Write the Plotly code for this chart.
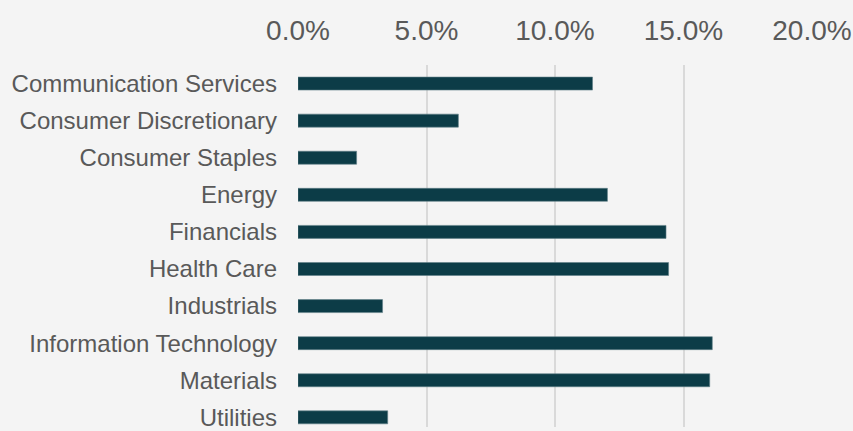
import plotly.graph_objects as go

categories = ["Communication Services", "Consumer Discretionary", "Consumer Staples",
              "Energy", "Financials", "Health Care", "Industrials",
              "Information Technology", "Materials", "Utilities"]
values = [11.46, 6.24, 2.28, 12.04, 14.32, 14.42, 3.29, 16.12, 16.02, 3.49]
tick_vals = [0, 5, 10, 15, 20]
tick_text = ["0.0%", "5.0%", "10.0%", "15.0%", "20.0%"]

fig = go.Figure(go.Bar(
    x=values, y=categories, orientation="h",
    marker=dict(color="#0c3c47", line=dict(color="#5f8088", width=0.6)),
))

fig.update_layout(
    width=853, height=431,
    margin=dict(l=298, r=41, t=65, b=0),
    paper_bgcolor="#f4f4f4", plot_bgcolor="#f4f4f4",
    bargap=0.65,
    showlegend=False,
    font=dict(family="Liberation Sans, Arial, sans-serif", color="#595959"),
)
fig.update_xaxes(
    side="top", range=[0, 20], tickvals=tick_vals, ticktext=tick_text,
    showgrid=True, gridcolor="#d9d9d9", gridwidth=1.5, zeroline=False,
    showline=False, tickfont=dict(size=28, color="#595959"),
    ticklabelstandoff=18,
)
fig.update_yaxes(
    type="category", categoryorder="array", categoryarray=categories,
    range=[9.26, -0.5], showgrid=False, zeroline=False, showline=False,
    tickfont=dict(size=24, color="#595959"), ticklabelstandoff=20,
)

fig.write_html(
    "out.html",
    config={"displayModeBar": False},
    post_script="document.body.style.margin='0';document.body.style.overflow='hidden';",
)
